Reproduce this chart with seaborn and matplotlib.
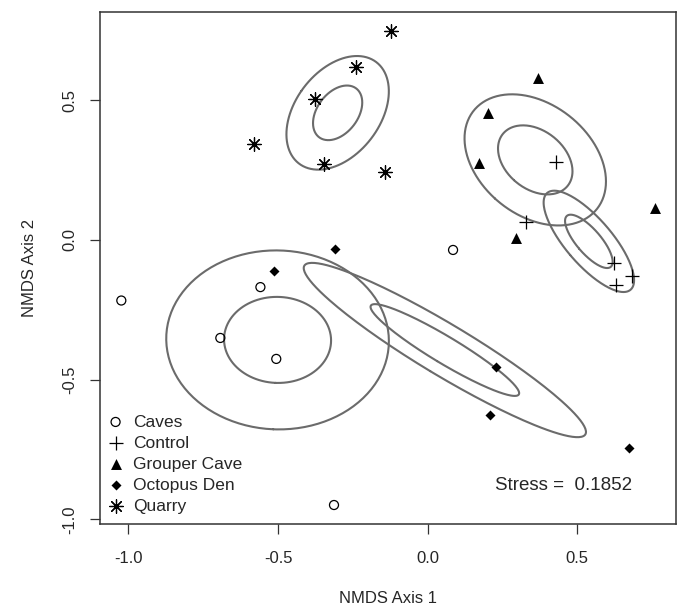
#!/usr/bin/env python3
# NMDS ordination: sites by habitat, with SD (outer) and SE (inner) ellipses per group.

import numpy as np
import pandas as pd
import seaborn as sns
import matplotlib.pyplot as plt

GROUPS = ["Caves", "Control", "Grouper Cave", "Octopus Den", "Quarry"]

CAVES_X   = [-1.024, -0.559, -0.693, -0.506, -0.313, 0.085]
CAVES_Y   = [-0.217, -0.169, -0.351, -0.426, -0.949, -0.036]
CONTROL_X = [0.430, 0.330, 0.623, 0.683, 0.629]
CONTROL_Y = [0.280, 0.065, -0.081, -0.129, -0.161]
GROUPER_X = [0.369, 0.202, 0.172, 0.297, 0.759]
GROUPER_Y = [0.578, 0.455, 0.276, 0.008, 0.115]
OCTOPUS_X = [-0.512, -0.310, 0.230, 0.207, 0.673]
OCTOPUS_Y = [-0.113, -0.033, -0.455, -0.626, -0.744]
QUARRY_X  = [-0.121, -0.238, -0.377, -0.579, -0.347, -0.143]
QUARRY_Y  = [0.748, 0.619, 0.506, 0.342, 0.270, 0.244]

STRESS = 0.1852

# marker style per group (R pch 1, 3, 17, 18, 8)
MARKERS = {
    "Caves":        dict(marker="o", s=42, facecolor="none", edgecolor="black", linewidth=0.9),
    "Control":      dict(marker="+", s=110, color="black", linewidth=0.9),
    "Grouper Cave": dict(marker="^", s=62, color="black", linewidth=0),
    "Octopus Den":  dict(marker="D", s=26, color="black", linewidth=0),
    "Quarry":       dict(marker=(8, 2, 0), s=95, color="black", linewidth=0.9),
}

ELLIPSE_COLOR = "#6b6b6b"


def ellipse_path(x, y, scale, npts=200):
    """Covariance ellipse (like vegan::ordiellipse) around the group centroid."""
    pts = np.column_stack([x, y])
    centre = pts.mean(axis=0)
    cov = np.cov(pts, rowvar=False)
    vals, vecs = np.linalg.eigh(cov)
    t = np.linspace(0, 2 * np.pi, npts)
    circ = np.vstack([np.cos(t), np.sin(t)])
    xy = vecs @ (np.sqrt(vals)[:, None] * circ) * scale
    return centre[0] + xy[0], centre[1] + xy[1]


def main():
    df = pd.concat([
        pd.DataFrame({"x": CAVES_X, "y": CAVES_Y, "group": "Caves"}),
        pd.DataFrame({"x": CONTROL_X, "y": CONTROL_Y, "group": "Control"}),
        pd.DataFrame({"x": GROUPER_X, "y": GROUPER_Y, "group": "Grouper Cave"}),
        pd.DataFrame({"x": OCTOPUS_X, "y": OCTOPUS_Y, "group": "Octopus Den"}),
        pd.DataFrame({"x": QUARRY_X, "y": QUARRY_Y, "group": "Quarry"}),
    ], ignore_index=True)

    sns.set_theme(style="white")
    plt.rcParams["font.family"] = ["Liberation Sans", "DejaVu Sans"]

    fig = plt.figure(figsize=(6.82, 6.08), dpi=100)
    ax = fig.add_axes([0.1466, 0.1382, 0.8446, 0.8421])

    # ellipses: outer = 1 SD, inner = SE at 50% confidence
    for g in GROUPS:
        sub = df[df["group"] == g]
        n = len(sub)
        se_scale = np.sqrt(-2 * np.log(1 - 0.5) / n)
        for scale in (1.0, se_scale):
            ex, ey = ellipse_path(sub["x"].values, sub["y"].values, scale)
            ax.plot(ex, ey, color=ELLIPSE_COLOR, lw=1.5, zorder=1)

    for g in GROUPS:
        sub = df[df["group"] == g]
        sns.scatterplot(data=sub, x="x", y="y", ax=ax, label=g, zorder=3, **MARKERS[g])

    # R-style 4% axis extension around the points
    xr = df["x"].max() - df["x"].min()
    yr = df["y"].max() - df["y"].min()
    ax.set_xlim(df["x"].min() - 0.04 * xr, df["x"].max() + 0.04 * xr)
    ax.set_ylim(df["y"].min() - 0.04 * yr, df["y"].max() + 0.04 * yr)

    ax.set_xticks([-1.0, -0.5, 0.0, 0.5])
    ax.set_yticks([-1.0, -0.5, 0.0, 0.5])
    ax.set_xticklabels(["-1.0", "-0.5", "0.0", "0.5"])
    ax.set_yticklabels(["-1.0", "-0.5", "0.0", "0.5"], rotation=90, va="center")
    ax.tick_params(axis="both", direction="out", length=7.5, width=0.9, color="#333333",
                   labelsize=12, bottom=True, left=True)
    ax.tick_params(axis="x", pad=12)
    ax.tick_params(axis="y", pad=9)
    for side in ("top", "right", "bottom", "left"):
        ax.spines[side].set_color("#333333")
        ax.spines[side].set_linewidth(1.1)

    ax.set_xlabel("NMDS Axis 1", fontsize=12, labelpad=18)
    ax.set_ylabel("NMDS Axis 2", fontsize=12, labelpad=18)

    ax.text(0.9236, 0.075, f"Stress =  {STRESS:.4f}", transform=ax.transAxes,
            ha="right", va="center", fontsize=13.5)

    ax.legend(loc="lower left", bbox_to_anchor=(0.012, 0.02), frameon=False, fontsize=12.5,
              handlelength=1.0, handletextpad=0.5, borderpad=0, borderaxespad=0,
              labelspacing=0.34)

    fig.savefig("out.png", dpi=100)


if __name__ == "__main__":
    main()
